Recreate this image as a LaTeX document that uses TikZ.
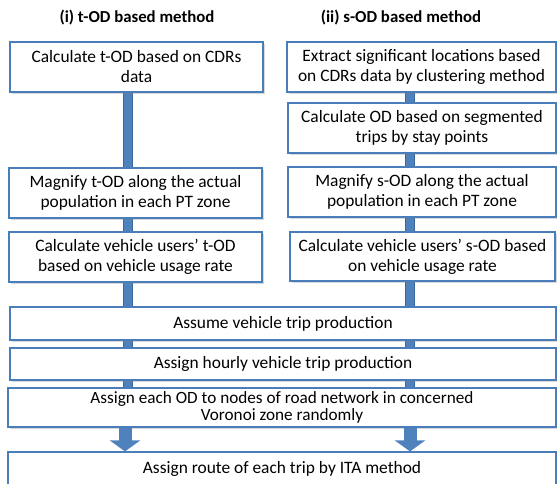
\documentclass[tikz,border=0pt]{standalone}
\usepackage{fontspec}
\setmainfont{Carlito}
\usetikzlibrary{arrows.meta,shadows,backgrounds}
\definecolor{boxline}{HTML}{4A7EBB}
\definecolor{barblue}{HTML}{4F81BD}
\definecolor{barline}{HTML}{3A679C}

\begin{document}
\begin{tikzpicture}[x=1pt,y=-1pt,
  every node/.style={font=\fontsize{17.4}{20}\selectfont},
  stepbox/.style={draw=boxline,line width=1.2pt,fill=white,align=center,inner sep=1pt,
    drop shadow={shadow xshift=1.5pt,shadow yshift=-1.8pt,opacity=0.3}},
  head/.style={font=\fontsize{16.8}{19}\selectfont\bfseries},
  bar/.style={draw=barline,line width=0.7pt,double=barblue,double distance=8.5pt},
  blockarrow/.style={draw=barblue,line width=13pt,-{Triangle[width=30pt,length=11pt]}}]
\useasboundingbox (0,0) rectangle (557,483);

% column headings
\node[head] (thead) at (137,18) {(i) t-OD based method};
\node[head] (shead) at (401,18) {(ii) s-OD based method};

% (i) t-OD
\node[stepbox,minimum width=253pt,minimum height=50pt] (tcalc) at (136.5,67)
  {Calculate t-OD based on CDRs\\data};
\node[stepbox,minimum width=253pt,minimum height=50pt] (tmag) at (135.5,193)
  {Magnify t-OD along the actual\\population in each PT zone};
\node[stepbox,minimum width=253pt,minimum height=50pt] (tveh) at (135.5,257)
  {Calculate vehicle users' t-OD\\based on vehicle usage rate};

% (ii) s-OD
\node[stepbox,minimum width=269pt,minimum height=50pt] (sext) at (421.5,67)
  {Extract significant locations based\\on CDRs data by clustering method};
\node[stepbox,minimum width=268pt,minimum height=50pt] (scalc) at (422,128)
  {Calculate OD based on segmented\\trips by stay points};
\node[stepbox,minimum width=268pt,minimum height=50pt] (smag) at (422,192)
  {Magnify s-OD along the actual\\population in each PT zone};
\node[stepbox,minimum width=265pt,minimum height=49pt] (sveh) at (422.5,256.5)
  {Calculate vehicle users' s-OD based\\on vehicle usage rate};

% common steps
\node[stepbox,minimum width=546pt,minimum height=33pt] (prod) at (283,323.5)
  {Assume vehicle trip production};
\node[stepbox,minimum width=546pt,minimum height=32pt] (hourly) at (283,364)
  {Assign hourly vehicle trip production};
\node[stepbox,minimum width=548pt,minimum height=39pt,inner sep=0pt,
  font=\fontsize{17.2}{17.2}\selectfont] (voronoi) at (282,407.5)
  {Assign each OD to nodes of road network in concerned\\Voronoi zone randomly};
\node[stepbox,minimum width=548pt,minimum height=33pt] (route) at (282,468.5)
  {Assign route of each trip by ITA method};

\coordinate (tx) at (128,0);
\coordinate (sx) at (410,0);
\coordinate (tax) at (125,0);

\begin{scope}[on background layer]
\draw[bar] (tcalc.south -| tx) -- (voronoi.north -| tx);
\draw[bar] (sext.south -| sx) -- (voronoi.north -| sx);
\end{scope}

\draw[blockarrow] (voronoi.south -| tax) -- (route.north -| tax);
\draw[blockarrow] (voronoi.south -| sx) -- (route.north -| sx);
\end{tikzpicture}
\end{document}
